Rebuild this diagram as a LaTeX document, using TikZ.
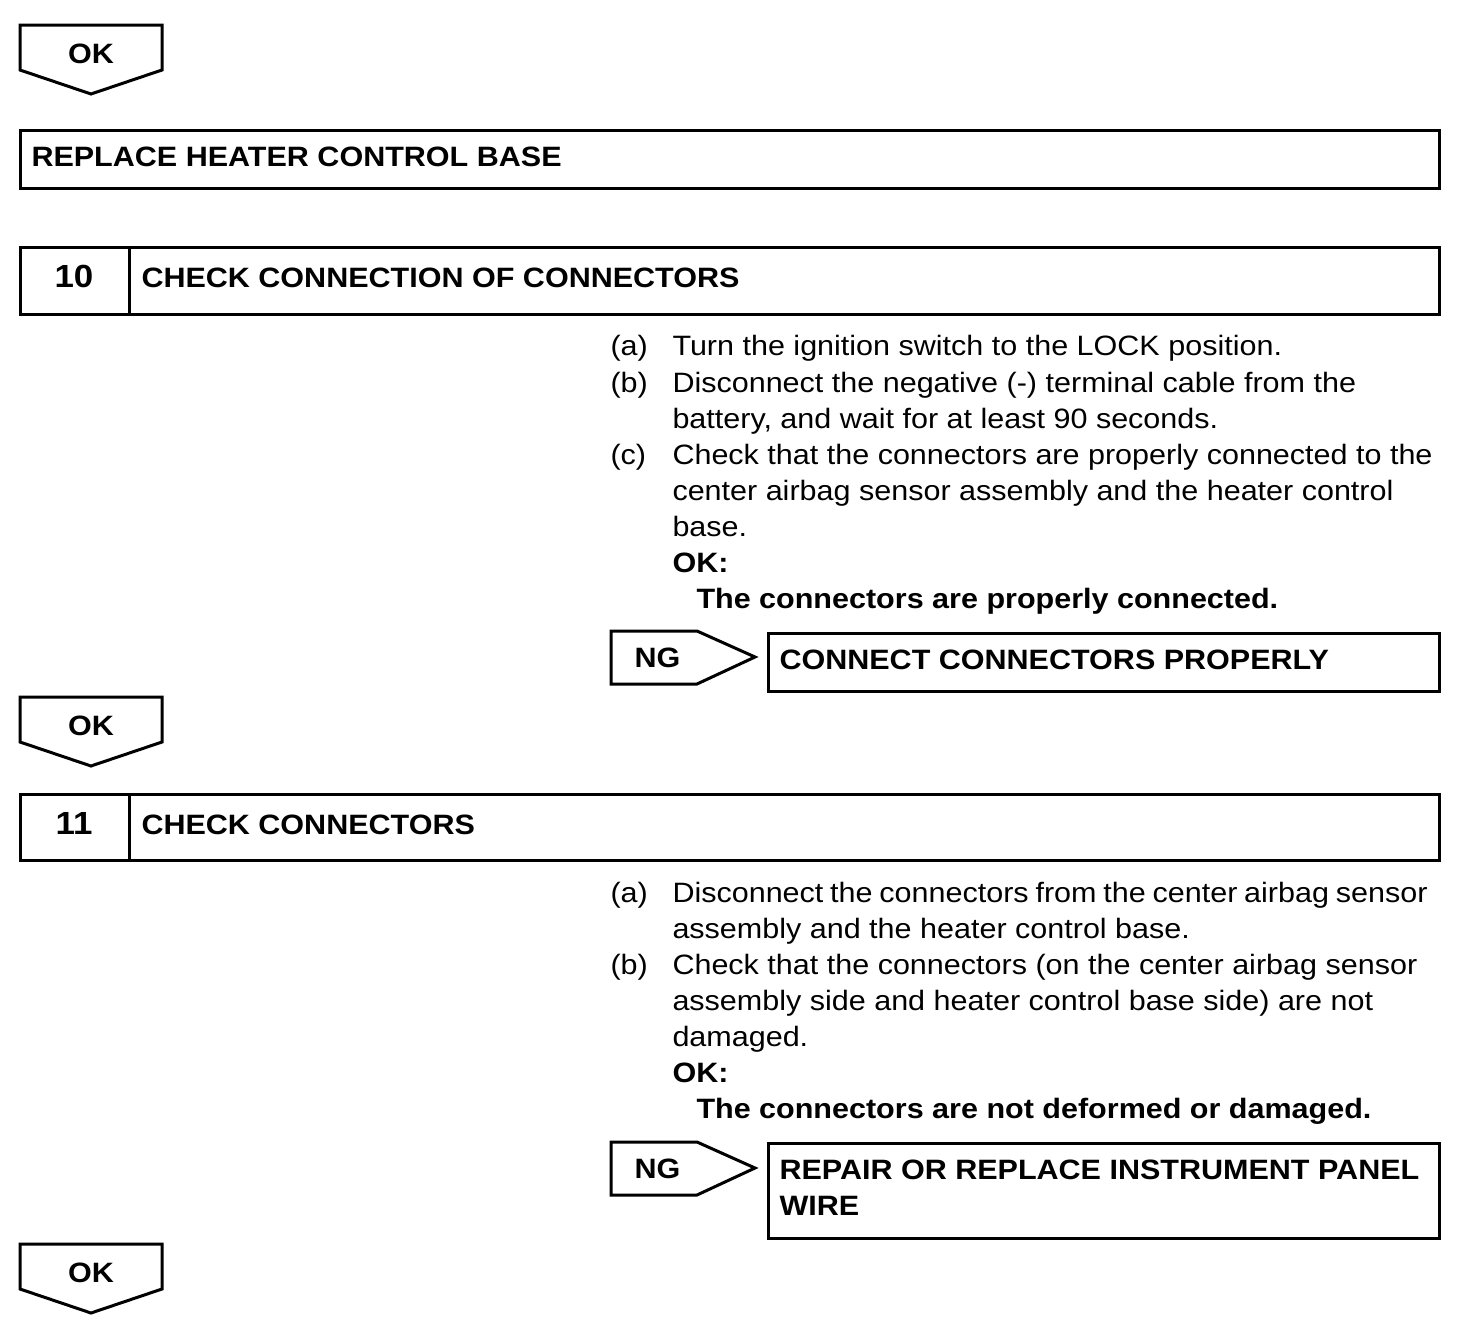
\documentclass[tikz,border=0pt]{standalone}
\usepackage{fontspec}
\setmainfont[FakeStretch=1.09]{Liberation Sans}
\begin{document}
\begin{tikzpicture}[x=1pt,y=-1pt,line width=3pt,line join=miter,
  txt/.style={anchor=base west,inner sep=0pt,font=\fontsize{28}{34}\selectfont},
  btxt/.style={anchor=base west,inner sep=0pt,font=\fontsize{28}{34}\selectfont\bfseries},
  numtxt/.style={anchor=base,inner sep=0pt,font=\fontsize{32}{38}\selectfont\bfseries},
  okpic/.pic={\draw (-71,-28) -- (71,-28) -- (71,17) -- (0,41) -- (-71,17) -- cycle;
              \node[btxt,anchor=base] (-ok) at (0,10) {OK};},
  ngpic/.pic={\draw (0,0) -- (86,0) -- (144,26) -- (86,53) -- (0,53) -- cycle;
              \node[btxt] (-ng) at (22,36) {NG};}]
\useasboundingbox (0,0) rectangle (1472,1336);

% OK 1
\pic (ok1) at (91,53) {okpic};

% Replace heater control base
\node[draw,minimum width=1419pt,minimum height=58pt,anchor=north west,inner sep=0pt] (rep) at (18.5,129) {};
\node[btxt] (reptxt) at (30,166) {REPLACE HEATER CONTROL BASE};

% Step 10
\node[draw,minimum width=1419pt,minimum height=67pt,anchor=north west,inner sep=0pt] (s10) at (18.5,246) {};
\draw (s10.north west) ++(111,0) coordinate (d10a) -- ++(0,67) coordinate (d10b);
\node[numtxt] (n10) at (74,287) {10};
\node[btxt] (t10) at (140,287) {CHECK CONNECTION OF CONNECTORS};

\node[txt] (a10) at (609,355) {(a)};
\node[txt] (a10l1) at (671,355) {Turn the ignition switch to the LOCK position.};
\node[txt] (b10) at (609,392) {(b)};
\node[txt] (b10l1) at (671,392) {Disconnect the negative (-) terminal cable from the};
\node[txt] (b10l2) at (671,428) {battery, and wait for at least 90 seconds.};
\node[txt] (c10) at (609,464) {(c)};
\node[txt] (c10l1) at (671,464) {Check that the connectors are properly connected to the};
\node[txt] (c10l2) at (671,500) {center airbag sensor assembly and the heater control};
\node[txt] (c10l3) at (671,536) {base.};
\node[btxt] (ok10) at (671,572) {OK:};
\node[btxt] (ok10t) at (695,608) {The connectors are properly connected.};

\pic (ng10) at (611,631) {ngpic};
\node[draw,minimum width=671pt,minimum height=58pt,anchor=north west,inner sep=0pt] (fix10) at (766.5,632) {};
\node[btxt] (fix10t) at (778,669) {CONNECT CONNECTORS PROPERLY};

% OK 2
\pic (ok2) at (91,725) {okpic};

% Step 11
\node[draw,minimum width=1419pt,minimum height=66pt,anchor=north west,inner sep=0pt] (s11) at (18.5,793) {};
\draw (s11.north west) ++(111,0) coordinate (d11a) -- ++(0,66) coordinate (d11b);
\node[numtxt] (n11) at (74,834) {11};
\node[btxt] (t11) at (140,834) {CHECK CONNECTORS};

\node[txt] (a11) at (609,902) {(a)};
\node[txt] (a11l1) at (671,902) {\spaceskip=6.8pt Disconnect the connectors from the center airbag sensor};
\node[txt] (a11l2) at (671,938) {assembly and the heater control base.};
\node[txt] (b11) at (609,974) {(b)};
\node[txt] (b11l1) at (671,974) {Check that the connectors (on the center airbag sensor};
\node[txt] (b11l2) at (671,1010) {assembly side and heater control base side) are not};
\node[txt] (b11l3) at (671,1046) {damaged.};
\node[btxt] (ok11) at (671,1082) {OK:};
\node[btxt] (ok11t) at (695,1118) {The connectors are not deformed or damaged.};

\pic (ng11) at (611,1142) {ngpic};
\node[draw,minimum width=671pt,minimum height=95pt,anchor=north west,inner sep=0pt] (fix11) at (766.5,1142) {};
\node[btxt] (fix11t1) at (778,1179) {REPAIR OR REPLACE INSTRUMENT PANEL};
\node[btxt] (fix11t2) at (778,1215) {WIRE};

% OK 3
\pic (ok3) at (91,1272) {okpic};
\end{tikzpicture}
\end{document}
